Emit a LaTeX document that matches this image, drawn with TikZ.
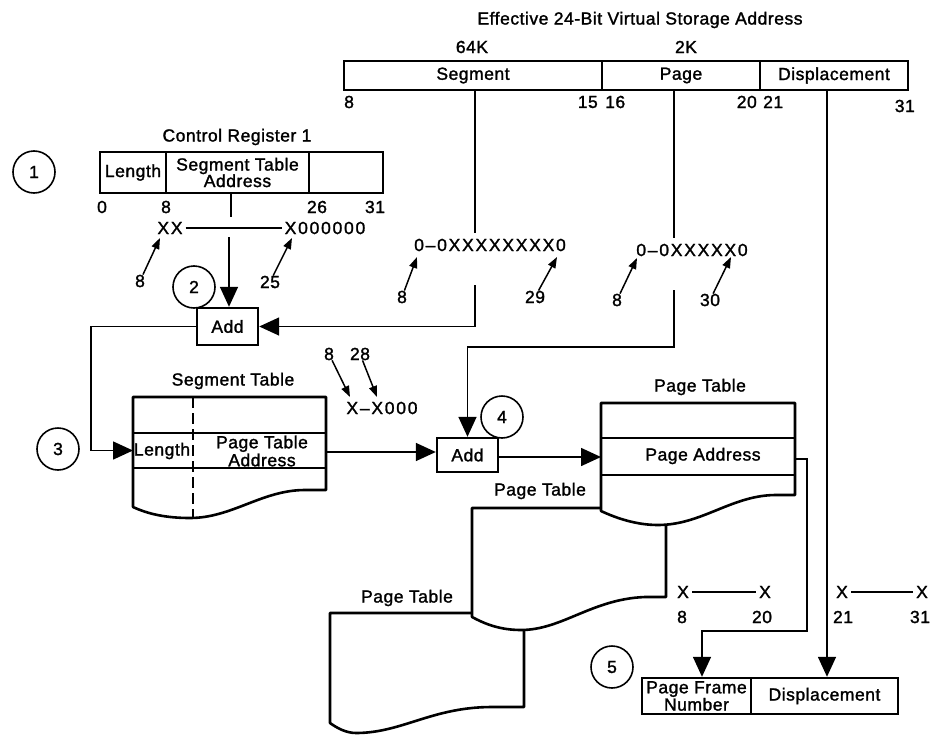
\documentclass[tikz,border=0pt]{standalone}
\usepackage{fontspec}
\setmainfont{Liberation Sans}[LetterSpace=3,FakeBold=1.5]
\newfontfamily\xfont{Liberation Sans}[LetterSpace=10,FakeBold=1.5]
\usetikzlibrary{arrows.meta}
\tikzset{
  txt/.style={inner sep=0pt, font=\fontsize{17.5}{18}\selectfont},
  xtxt/.style={inner sep=0pt, font=\xfont\fontsize{17.5}{18}\selectfont},
  field/.style={draw, line width=2.4pt, inner sep=0pt, align=center, font=\fontsize{17.5}{16.5}\selectfont},
  num/.style={circle, draw, line width=1.6pt, minimum size=42pt, inner sep=0pt, font=\fontsize{17.5}{18}\selectfont},
  wire/.style={line width=1.6pt},
  bigarrow/.style={wire, -{Triangle[length=20pt,width=18pt]}},
  tinyarrow/.style={line width=1.5pt, -{Triangle[length=11pt,width=8pt]}},
  outline/.style={line width=2.6pt, fill=white, line join=round},
  rowline/.style={line width=1.8pt}
}
\begin{document}
\begin{tikzpicture}[x=1pt,y=-1pt]
\useasboundingbox (0,0) rectangle (932,736);

% ---------- effective address ----------
\node[txt] (title) at (640,20) {Effective 24-Bit Virtual Storage Address};
\node[txt] (k64) at (472,47) {64K};
\node[txt] (k2) at (686,47) {2K};
\node[field, minimum width=258pt, minimum height=29pt] (segf) at (473,75.5) {Segment};
\node[field, minimum width=158pt, minimum height=29pt] (pagef) at (681,75.5) {Page};
\node[field, minimum width=148pt, minimum height=29pt] (dispf) at (834,75.5) {Displacement};
\node[txt, anchor=west] (b8) at (344,102) {8};
\node[txt, anchor=east] (b15) at (598,102) {15};
\node[txt, anchor=west] (b16) at (605,102) {16};
\node[txt, anchor=east] (b20) at (757,102) {20};
\node[txt, anchor=west] (b21) at (763,102) {21};
\node[txt, anchor=east] (b31) at (915,106) {31};

% ---------- control register 1 ----------
\node[num] (c1) at (34,172) {1};
\node[txt] (crt) at (237,137) {Control Register 1};
\node[field, minimum width=66pt, minimum height=41pt] (crlen) at (133,172.5) {Length};
\node[field, minimum width=143pt, minimum height=41pt] (crsta) at (237.5,172.5) {Segment Table\\Address};
\node[field, minimum width=74pt, minimum height=41pt] (crend) at (346,172.5) {};
\node[txt] (cr0) at (102,207) {0};
\node[txt] (cr8) at (166,207) {8};
\node[txt] (cr26) at (317,207) {26};
\node[txt] (cr31) at (375,207) {31};
\coordinate (tick) at (231,193);
\draw[wire] (tick) -- ++(0,24);
\node[xtxt] (xx) at (170,228) {XX};
\node[xtxt] (x6) at (325,228) {X000000};
\draw[wire] ([xshift=3pt]xx.east) -- ([xshift=-3pt]x6.west);
\node[txt] (a8) at (140,281) {8};
\node[txt] (a25) at (270,282) {25};
\coordinate (a8t) at (160,238);
\coordinate (a25t) at (292,238);
\draw[tinyarrow] (a8) -- (a8t);
\draw[tinyarrow] (a25) -- (a25t);

% ---------- first add ----------
\node[num] (c2) at (194,287) {2};
\node[field, minimum width=61pt, minimum height=37pt] (add1) at (227.5,326.5) {Add};
\coordinate (crdown) at (229,237);
\draw[bigarrow] (crdown) -- (crdown |- add1.north);

% ---------- segment index ----------
\coordinate (sd) at (475,90);
\coordinate (sd2) at (475,233);
\draw[wire] (sd) -- (sd2);
\node[xtxt] (segx) at (490,245) {0–0XXXXXXXX0};
\node[txt] (s8) at (402,297) {8};
\node[txt] (s29) at (535,297) {29};
\coordinate (s8t) at (417,257);
\coordinate (s29t) at (557,257);
\draw[tinyarrow] (s8) -- (s8t);
\draw[tinyarrow] (s29) -- (s29t);
\coordinate (sb) at (475,285);
\draw[bigarrow] (sb) |- (add1.east);

% ---------- page index ----------
\coordinate (pd) at (674,90);
\coordinate (pd2) at (674,238);
\draw[wire] (pd) -- (pd2);
\node[xtxt] (pagex) at (692,250) {0–0XXXXX0};
\node[txt] (p8) at (617,300) {8};
\node[txt] (p30) at (710,300) {30};
\coordinate (p8t) at (637,258);
\coordinate (p30t) at (731,257);
\draw[tinyarrow] (p8) -- (p8t);
\draw[tinyarrow] (p30) -- (p30t);

% ---------- segment table ----------
\node[num] (c3) at (58,449) {3};
\node[txt] (stt) at (233,381) {Segment Table};
\draw[outline] (133,397) -- (326,397) -- (326,490) -- (305,490)
  .. controls (262,490) and (232,518) .. (190,518)
  .. controls (166,518) and (148,514) .. (133,507) -- cycle;
\draw[rowline] (133,433) -- (326,433);
\draw[rowline] (133,468) -- (326,468);
\draw[line width=2.2pt, dash pattern=on 11pt off 5pt] (193,397) -- (193,518);
\node[txt] (stlen) at (162,451) {Length};
\node[txt, align=center] (stpta) at (262,451) {Page Table\\Address};
\coordinate (lx) at (91,450.5);
\coordinate (stin) at (133,450.5);
\draw[bigarrow] (add1.west) -- (add1.west -| lx) |- (stin);

\node[txt] (st8) at (329,354) {8};
\node[txt] (st28) at (360,354) {28};
\node[xtxt] (stx) at (382,408) {X–X000};
\coordinate (st8t) at (350,397);
\coordinate (st28t) at (377,397);
\draw[tinyarrow] (st8) -- (st8t);
\draw[tinyarrow] (st28) -- (st28t);

% ---------- second add ----------
\node[field, minimum width=61pt, minimum height=34pt] (add2) at (467.5,455) {Add};
\node[num, fill=white] (c4) at (502,417) {4};
\coordinate (pb) at (674,290);
\coordinate (pturn) at (674,347);
\draw[bigarrow] (pb) -- (pturn) -| (add2.north);
\coordinate (stout) at (326,452);
\draw[bigarrow] (stout) -- (stout -| add2.west);

% ---------- page tables ----------
% third (back)
\draw[outline] (330,613) -- (524,613) -- (524,707) -- (492,707)
  .. controls (432,707) and (402,733) .. (356,733)
  .. controls (346,733) and (337,728) .. (330,723) -- cycle;
\node[txt] (pt3) at (407,598) {Page Table};
% second
\draw[outline] (472,508) -- (666,508) -- (666,597) -- (645,597)
  .. controls (592,599) and (562,630) .. (521,630)
  .. controls (500,630) and (485,624) .. (472,617) -- cycle;
\node[txt] (pt2) at (540,491) {Page Table};
% first (front)
\node[txt] (pt1) at (700,387) {Page Table};
\draw[outline] (601,403) -- (795,403) -- (795,495) -- (776,495)
  .. controls (732,495) and (702,525) .. (658,525)
  .. controls (636,525) and (616,518) .. (601,511) -- cycle;
\draw[rowline] (601,438) -- (795,438);
\draw[rowline] (601,475) -- (795,475);
\node[txt] (ptpa) at (703,456) {Page Address};
\coordinate (ptin) at (601,457);
\draw[bigarrow] (add2.east |- ptin) -- (ptin);

% ---------- real address ----------
\node[num] (c5) at (612,667) {5};
\node[field, minimum width=109pt, minimum height=36pt, font=\fontsize{17.5}{14}\selectfont] (pfn) at (696.5,696) {Page Frame\\Number};
\node[field, minimum width=147pt, minimum height=36pt] (rdisp) at (824.5,696) {Displacement};
\coordinate (ptout) at (795,459);
\coordinate (pfturn) at (807,631);
\coordinate (pfx) at (702,631);
\draw[bigarrow] (ptout) -| (pfturn) -- (pfx) -- (pfx |- pfn.north);
\coordinate (dd) at (827,90);
\draw[bigarrow] (dd) -- (dd |- rdisp.north);

\node[xtxt] (x1) at (683,592) {X};
\node[xtxt] (x2) at (765,592) {X};
\draw[wire] ([xshift=3pt]x1.east) -- ([xshift=-3pt]x2.west);
\node[txt] (l8) at (682,617) {8};
\node[txt] (l20) at (762,617) {20};
\node[xtxt] (x3) at (842,592) {X};
\node[xtxt] (x4) at (922,592) {X};
\draw[wire] ([xshift=3pt]x3.east) -- ([xshift=-3pt]x4.west);
\node[txt] (l21) at (843,617) {21};
\node[txt] (l31) at (920,617) {31};
\end{tikzpicture}
\end{document}
